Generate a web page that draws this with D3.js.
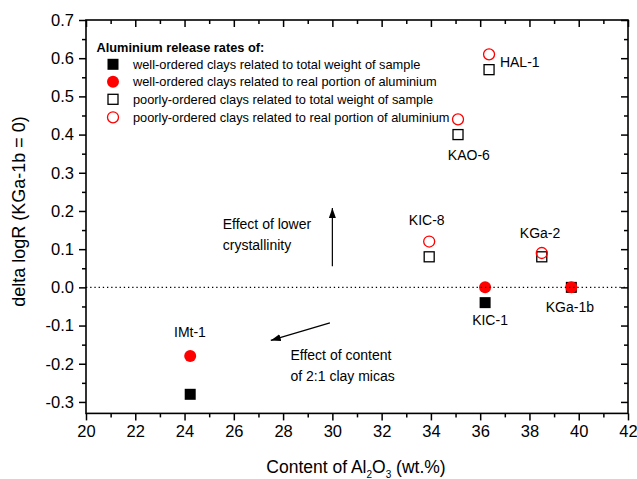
<!DOCTYPE html>
<html><head><meta charset="utf-8">
<script src="https://cdn.jsdelivr.net/npm/d3@7"></script>
<style>
body{margin:0;background:#fff;}
svg{display:block;font-family:"Liberation Sans",Arial,sans-serif;}
</style></head>
<body><svg id="c" width="637" height="479"></svg>
<script>
// ---- data ----
const wellSamples = ["IMt-1", "KIC-1", "KGa-1b"];
const wellAl2O3 = [24.23, 36.2, 39.7];
const wellTotal = [-0.28, -0.04, 0.0];
const wellReal = [-0.18, 0.0, 0.0];

const poorSamples = ["KIC-8", "KGa-2", "KAO-6", "HAL-1"];
const poorAl2O3 = [33.93, 38.5, 35.1, 36.36];
const poorTotal = [0.08, 0.08, 0.40, 0.57];
const poorReal = [0.12, 0.09, 0.44, 0.61];

const xTicks = [20, 22, 24, 26, 28, 30, 32, 34, 36, 38, 40, 42];
const yTicks = [-0.3, -0.2, -0.1, 0.0, 0.1, 0.2, 0.3, 0.4, 0.5, 0.6, 0.7];

const legendTitle = "Aluminium release rates of:";
const legendLabels = [
  "well-ordered clays related to total weight of sample",
  "well-ordered clays related to real portion of aluminium",
  "poorly-ordered clays related to total weight of sample",
  "poorly-ordered clays related to real portion of aluminium"
];

// sample label anchors (data coordinates)
const labelNames = ["IMt-1", "KIC-1", "KGa-1b", "KIC-8", "KGa-2", "KAO-6", "HAL-1"];
const labelX = [24.22, 36.4, 39.64, 33.83, 38.43, 35.54, 36.8];
const labelY = [-0.129, -0.0975, -0.065, 0.162, 0.129, 0.334, 0.578];

// ---- layout ----
const svg = d3.select("#c");
const L = 86, R = 628, T = 20, B = 413.4;
const x = d3.scaleLinear().domain([20, 42]).range([L, R]);
const y = d3.scaleLinear().domain([-0.33, 0.7]).range([B, T]);
const font = '"Liberation Sans",Arial,sans-serif';

// minor ticks
const xMinor = d3.range(21, 42, 2);
const yMinor = d3.range(-0.25, 0.7, 0.1).map(v => +v.toFixed(2));

const g = svg.append("g");
function axisStyle(sel) {
  sel.select(".domain").remove();
  sel.selectAll("line").attr("stroke", "#000").attr("stroke-width", 1.5);
  sel.selectAll("text").attr("fill", "#000").style("font-family", font).style("font-size", "16.5px");
}
// bottom
g.append("g").attr("transform", `translate(0,${B})`)
  .call(d3.axisBottom(x).tickValues(xTicks).tickSize(7).tickPadding(5).tickFormat(d3.format("d")))
  .call(axisStyle);
g.append("g").attr("transform", `translate(0,${B})`)
  .call(d3.axisBottom(x).tickValues(xMinor).tickSize(4).tickFormat(""))
  .call(axisStyle);
// top (inward)
g.append("g").attr("transform", `translate(0,${T})`)
  .call(d3.axisBottom(x).tickValues(xTicks).tickSize(7).tickFormat(""))
  .call(axisStyle);
g.append("g").attr("transform", `translate(0,${T})`)
  .call(d3.axisBottom(x).tickValues(xMinor).tickSize(4).tickFormat(""))
  .call(axisStyle);
// left
g.append("g").attr("transform", `translate(${L},0)`)
  .call(d3.axisLeft(y).tickValues(yTicks).tickSize(7).tickPadding(5).tickFormat(d3.format(".1f")))
  .call(axisStyle);
g.append("g").attr("transform", `translate(${L},0)`)
  .call(d3.axisLeft(y).tickValues(yMinor).tickSize(4).tickFormat(""))
  .call(axisStyle);
// right (inward)
g.append("g").attr("transform", `translate(${R},0)`)
  .call(d3.axisLeft(y).tickValues(yTicks).tickSize(7).tickFormat(""))
  .call(axisStyle);
g.append("g").attr("transform", `translate(${R},0)`)
  .call(d3.axisLeft(y).tickValues(yMinor).tickSize(4).tickFormat(""))
  .call(axisStyle);
// frame
svg.append("rect").attr("x", L).attr("y", T).attr("width", R - L).attr("height", B - T)
  .attr("fill", "none").attr("stroke", "#000").attr("stroke-width", 1.6);

// use hyphen-minus as in the original
svg.selectAll("text").each(function(){ const t=d3.select(this); t.text(t.text().replace("\u2212","-")); });

// axis titles
const xt = svg.append("text").attr("x", (L + R) / 2 - 1).attr("y", 473)
  .attr("text-anchor", "middle").style("font-size", "17.5px").attr("fill", "#000");
xt.append("tspan").text("Content of Al");
xt.append("tspan").text("2").attr("dy", 5).style("font-size", "10px");
xt.append("tspan").text("O").attr("dy", -5);
xt.append("tspan").text("3").attr("dy", 5).style("font-size", "10px");
xt.append("tspan").text(" (wt.%)").attr("dy", -5);

svg.append("text").attr("transform", "translate(25,211.5) rotate(-90)")
  .attr("text-anchor", "middle").style("font-size", "18px").attr("fill", "#000")
  .text("delta logR (KGa-1b = 0)");

// ---- markers ----
const sq = 11, sqOpen = 10, rFill = 6, rOpen = 5.5;
const plot = svg.append("g");
plot.selectAll(".wt").data(wellAl2O3).join("rect")
  .attr("x", (d) => x(d) - sq / 2).attr("y", (d, i) => y(wellTotal[i]) - sq / 2)
  .attr("width", sq).attr("height", sq).attr("fill", "#000");
plot.selectAll(".wr").data(wellAl2O3).join("circle")
  .attr("cx", d => x(d)).attr("cy", (d, i) => y(wellReal[i])).attr("r", rFill)
  .attr("fill", "#ff0000");
plot.selectAll(".pt").data(poorAl2O3).join("rect")
  .attr("x", d => x(d) - sqOpen / 2).attr("y", (d, i) => y(poorTotal[i]) - sqOpen / 2)
  .attr("width", sqOpen).attr("height", sqOpen).attr("fill", "none")
  .attr("stroke", "#000").attr("stroke-width", 1.3);
plot.selectAll(".pr").data(poorAl2O3).join("circle")
  .attr("cx", d => x(d)).attr("cy", (d, i) => y(poorReal[i])).attr("r", rOpen)
  .attr("fill", "none").attr("stroke", "#ff0000").attr("stroke-width", 1.3);

// zero dotted line
svg.append("line").attr("x1", L).attr("x2", R).attr("y1", y(0)).attr("y2", y(0))
  .attr("stroke", "#000").attr("stroke-width", 1.3).attr("stroke-dasharray", "1.3,2.9");

// sample labels
svg.append("g").selectAll("text").data(labelNames).join("text")
  .attr("x", (d, i) => x(labelX[i])).attr("y", (d, i) => y(labelY[i]))
  .attr("text-anchor", d => d === "HAL-1" ? "start" : "middle")
  .style("font-size", "14px").attr("fill", "#000").text(d => d);

// ---- legend ----
const lg = svg.append("g");
lg.append("text").attr("x", 96.5).attr("y", 51.5).style("font-size", "12.8px")
  .style("font-weight", "bold").attr("fill", "#000").text(legendTitle);
const ly = [64.3, 81.7, 99.3, 117.3];
const lx = 113;
lg.append("rect").attr("x", lx - sq / 2).attr("y", ly[0] - sq / 2).attr("width", sq).attr("height", sq).attr("fill", "#000");
lg.append("circle").attr("cx", lx).attr("cy", ly[1]).attr("r", rFill).attr("fill", "#ff0000");
lg.append("rect").attr("x", lx - sqOpen / 2).attr("y", ly[2] - sqOpen / 2).attr("width", sqOpen).attr("height", sqOpen)
  .attr("fill", "none").attr("stroke", "#000").attr("stroke-width", 1.3);
lg.append("circle").attr("cx", lx).attr("cy", ly[3]).attr("r", rOpen).attr("fill", "none")
  .attr("stroke", "#ff0000").attr("stroke-width", 1.3);
lg.selectAll(".lt").data(legendLabels).join("text")
  .attr("x", 133).attr("y", (d, i) => ly[i] + 4.5).style("font-size", "12.8px")
  .attr("fill", "#000").text(d => d);

// ---- annotations ----
const defs = svg.append("defs");
defs.append("marker").attr("id", "ah").attr("viewBox", "0 0 10 10").attr("refX", 10).attr("refY", 5)
  .attr("markerWidth", 10).attr("markerHeight", 10).attr("markerUnits", "userSpaceOnUse")
  .attr("orient", "auto")
  .append("path").attr("d", "M0,1.5 L10,5 L0,8.5 Z").attr("fill", "#000");
const ann = svg.append("g");
ann.append("line").attr("x1", x(30.0)).attr("y1", y(0.055)).attr("x2", x(30.0)).attr("y2", y(0.208))
  .attr("stroke", "#000").attr("stroke-width", 1.2).attr("marker-end", "url(#ah)");
ann.append("line").attr("x1", x(29.9)).attr("y1", y(-0.093)).attr("x2", x(27.5)).attr("y2", y(-0.139))
  .attr("stroke", "#000").attr("stroke-width", 1.2).attr("marker-end", "url(#ah)");
const annText = [
  ["Effect of lower", 25.55, 0.153],
  ["crystallinity", 25.55, 0.099],
  ["Effect of content", 28.3, -0.189],
  ["of 2:1 clay micas", 28.3, -0.244]
];
ann.selectAll("text").data(annText).join("text")
  .attr("x", d => x(d[1])).attr("y", d => y(d[2])).style("font-size", "14px")
  .attr("fill", "#000").text(d => d[0]);
</script></body></html>
